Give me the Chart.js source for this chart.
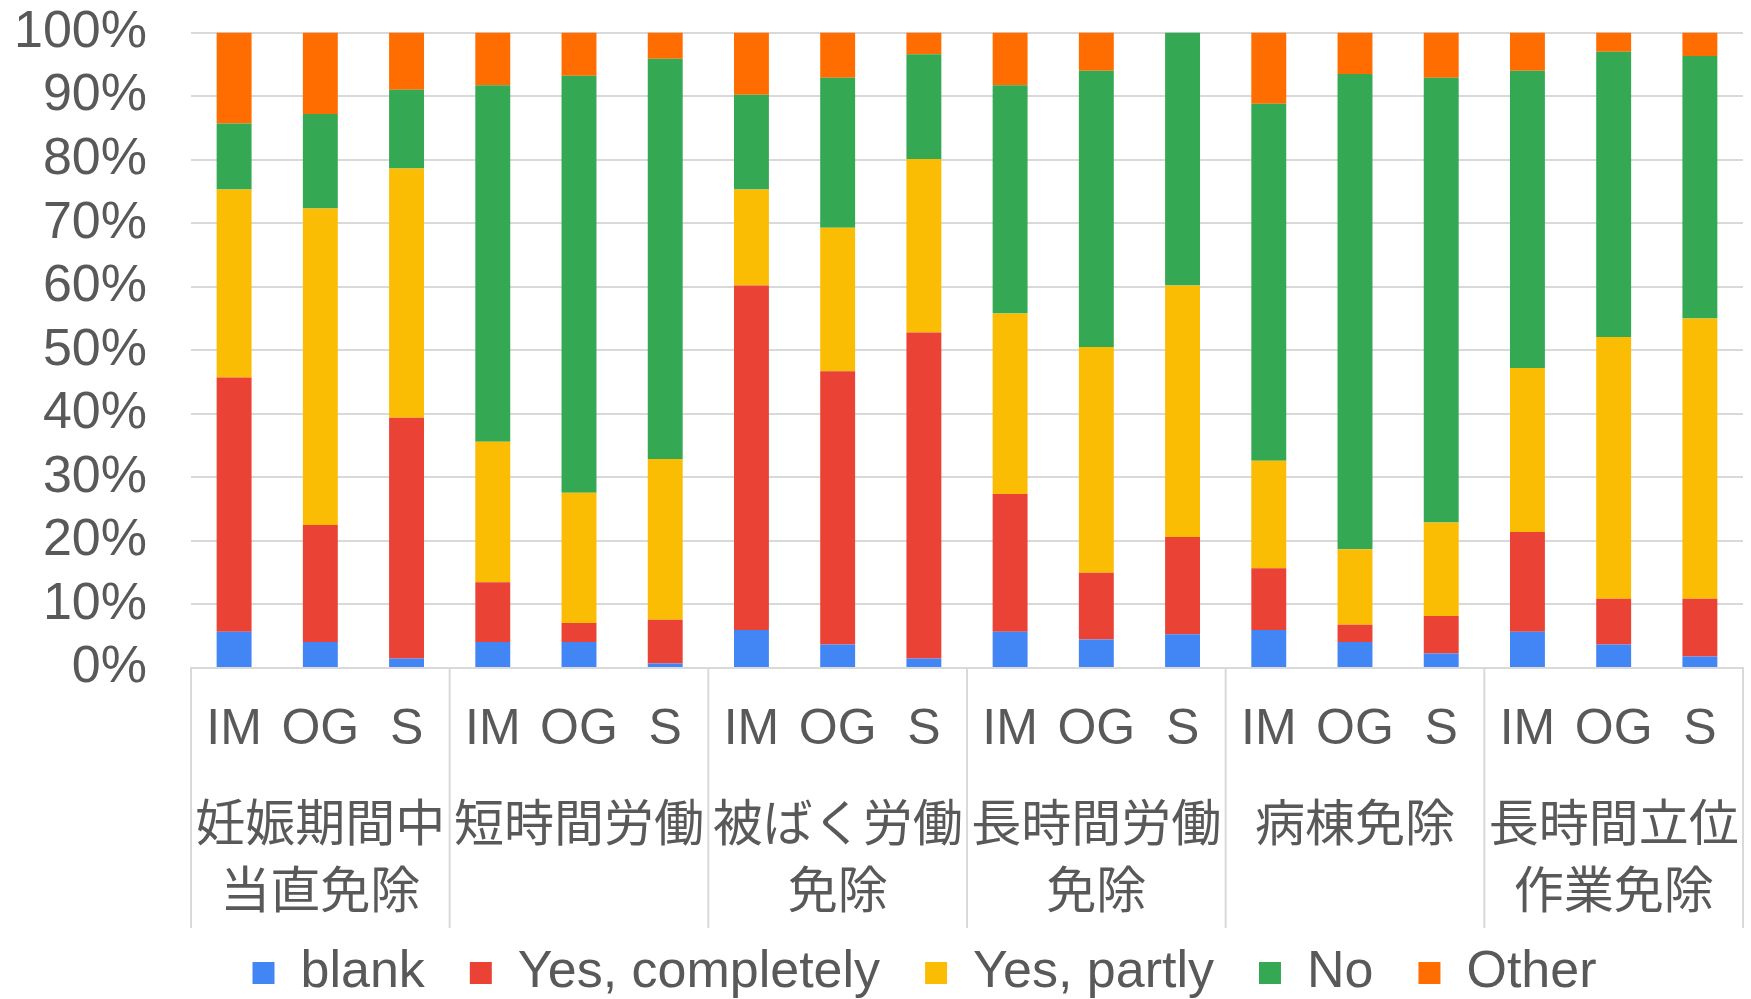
<!DOCTYPE html>
<html>
<head>
<meta charset="utf-8">
<script src="https://cdn.jsdelivr.net/npm/chart.js@4/dist/chart.umd.min.js"></script>
<style>
  html, body { margin: 0; padding: 0; background: #fff; }
  #wrap { width: 1751px; height: 999px; }
</style>
</head>
<body>
<div id="wrap"><canvas id="chart" width="1751" height="999"></canvas></div>
<script>
// sub-categories (one bar each) and their groups
const categories = ["IM", "OG", "S", "IM", "OG", "S", "IM", "OG", "S",
                    "IM", "OG", "S", "IM", "OG", "S", "IM", "OG", "S"];
const groupLabels = [
  ["妊娠期間中", "当直免除"],
  ["短時間労働"],
  ["被ばく労働", "免除"],
  ["長時間労働", "免除"],
  ["病棟免除"],
  ["長時間立位", "作業免除"],
];

// series values (%)
const blank         = [5.7, 4.1, 1.5, 4.1, 4.1, 0.7, 6.0, 3.7, 1.5, 5.7, 4.5, 5.3, 6.0, 4.1, 2.3, 5.7, 3.7, 1.8];
const yesCompletely = [40.0, 18.4, 37.9, 9.4, 3.0, 6.9, 54.2, 43.0, 51.3, 21.7, 10.5, 15.3, 9.7, 2.7, 5.9, 15.7, 7.2, 9.1];
const yesPartly     = [29.6, 49.8, 39.2, 22.1, 20.5, 25.3, 15.1, 22.6, 27.3, 28.4, 35.5, 39.6, 16.9, 11.9, 14.7, 25.8, 41.2, 44.1];
const no            = [10.4, 14.9, 12.4, 56.1, 65.6, 63.0, 14.9, 23.6, 16.5, 35.9, 43.5, 39.8, 56.2, 74.8, 70.0, 46.8, 44.9, 41.3];
const other         = [14.3, 12.8, 9.0, 8.3, 6.8, 4.1, 9.8, 7.1, 3.4, 8.3, 6.0, 0.0, 11.2, 6.5, 7.1, 6.0, 3.0, 3.7];

const textColor = "#595959";
const gridColor = "#d9d9d9";
const latinFont = "'Liberation Sans', Arial, sans-serif";
const cjkFont = "'Noto Sans CJK JP', sans-serif";

// group names + separators under the IM / OG / S row
const groupAxisPlugin = {
  id: "groupAxis",
  afterLayout(chart) {
    // legend sits a bit right of the canvas centre in the original
    chart.legend.left += 48;
    chart.legend.right += 48;
  },
  afterDraw(chart) {
    const ctx = chart.ctx;
    const x = chart.scales.x;
    const top = x.top;
    const bottom = top + 260;
    const n = categories.length;

    ctx.save();
    ctx.strokeStyle = gridColor;
    ctx.lineWidth = 2;
    for (let g = 0; g <= groupLabels.length; g++) {
      const i = g * 3;
      let px;
      if (i === 0) px = x.left;
      else if (i >= n) px = x.right;
      else px = (x.getPixelForValue(i - 1) + x.getPixelForValue(i)) / 2;
      ctx.beginPath();
      ctx.moveTo(px, top);
      ctx.lineTo(px, bottom);
      ctx.stroke();
    }

    ctx.fillStyle = textColor;
    ctx.font = "50px " + cjkFont;
    ctx.textAlign = "center";
    ctx.textBaseline = "middle";
    groupLabels.forEach((lines, g) => {
      const cx = x.getPixelForValue(g * 3 + 1);
      lines.forEach((line, k) => {
        ctx.fillText(line, cx, top + 154 + k * 67);
      });
    });
    ctx.restore();
  },
};

new Chart(document.getElementById("chart"), {
  type: "bar",
  data: {
    labels: categories,
    datasets: [
      { label: "blank", data: blank, backgroundColor: "#4285F4" },
      { label: "Yes, completely", data: yesCompletely, backgroundColor: "#EA4335" },
      { label: "Yes, partly", data: yesPartly, backgroundColor: "#FBBC04" },
      { label: "No", data: no, backgroundColor: "#34A853" },
      { label: "Other", data: other, backgroundColor: "#FF6D01" },
    ],
  },
  options: {
    responsive: false,
    animation: false,
    layout: { padding: { left: 10, right: 8, top: 0, bottom: -10 } },
    datasets: {
      bar: { barPercentage: 0.405, categoryPercentage: 1.0 },
    },
    plugins: {
      legend: {
        position: "bottom",
        labels: {
          color: textColor,
          font: { family: latinFont, size: 52 },
          boxWidth: 22,
          boxHeight: 22,
          padding: 45,
        },
      },
      tooltip: { enabled: false },
    },
    scales: {
      x: {
        stacked: true,
        grid: { display: false, drawTicks: false },
        border: { display: true, color: gridColor, width: 2 },
        ticks: {
          color: textColor,
          font: { family: latinFont, size: 50 },
          padding: 32,
          maxRotation: 0,
          autoSkip: false,
        },
        afterFit(scale) {
          scale.height = 234;
        },
      },
      y: {
        stacked: true,
        min: 0,
        max: 100,
        grid: { color: gridColor, lineWidth: 2, drawTicks: true, tickLength: 40, tickColor: "transparent" },
        border: { display: false },
        ticks: {
          stepSize: 10,
          autoSkip: false,
          color: textColor,
          font: { family: latinFont, size: 52, lineHeight: 1.1 },
          padding: 4,
          callback: (v) => v + "%",
        },
      },
    },
  },
  plugins: [groupAxisPlugin],
});
</script>
</body>
</html>
